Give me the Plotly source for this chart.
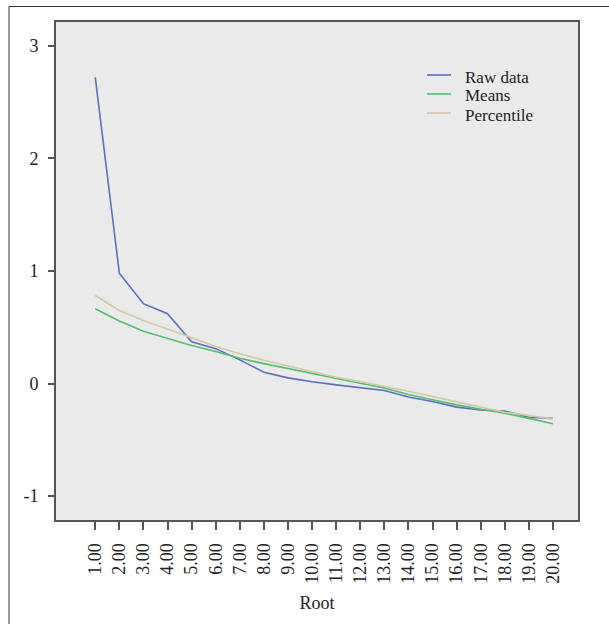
import plotly.graph_objects as go

# ---- data ----
roots = ["1.00", "2.00", "3.00", "4.00", "5.00", "6.00", "7.00", "8.00", "9.00", "10.00",
         "11.00", "12.00", "13.00", "14.00", "15.00", "16.00", "17.00", "18.00", "19.00", "20.00"]
raw_data = [2.72, 0.98, 0.71, 0.62, 0.37, 0.31, 0.21, 0.10, 0.05, 0.015,
            -0.012, -0.04, -0.062, -0.12, -0.16, -0.21, -0.235, -0.245, -0.30, -0.31]
means = [0.665, 0.555, 0.465, 0.40, 0.338, 0.285, 0.225, 0.177, 0.132, 0.086,
         0.042, 0.002, -0.04, -0.098, -0.145, -0.19, -0.228, -0.265, -0.31, -0.358]
percentile = [0.782, 0.649, 0.56, 0.486, 0.406, 0.329, 0.264, 0.207, 0.155, 0.104,
              0.056, 0.018, -0.024, -0.068, -0.116, -0.166, -0.21, -0.255, -0.284, -0.314]
y_ticks = [-1, 0, 1, 2, 3]

series = [
    ("Raw data", raw_data, "#5a6fc2"),
    ("Means", means, "#4cc46c"),
    ("Percentile", percentile, "#d3c9a2"),
]

FONT = "Liberation Serif"
W, H = 609, 624
ML, MR, MT, MB = 56, 31, 22, 104
PW, PH = W - ML - MR, H - MT - MB


def px(xp):
    return (xp - ML) / PW


def py(yp):
    return (H - MB - yp) / PH


fig = go.Figure()
for name, vals, col in series:
    fig.add_trace(go.Scatter(x=roots, y=vals, mode="lines", name=name,
                             line=dict(color=col, width=1.6), showlegend=False))

# custom compact legend (swatch + label)
leg_y_line = [75.0, 94.0, 113.0]
for (name, vals, col), yl in zip(series, leg_y_line):
    fig.add_shape(type="line", xref="paper", yref="paper",
                  x0=px(427), x1=px(451), y0=py(yl), y1=py(yl),
                  line=dict(color=col, width=1.6))
    fig.add_annotation(xref="paper", yref="paper", x=px(464), y=py(yl + 2),
                       text=name, showarrow=False, xanchor="left", yanchor="middle",
                       height=17, borderpad=0,
                       font=dict(family=FONT, size=17, color="#222222"))

# outer frame lines
frame = dict(color="#333333", width=1)
fig.add_shape(type="line", xref="paper", yref="paper", x0=px(9), x1=px(9),
              y0=py(6.5), y1=py(H + 5), line=frame)
fig.add_shape(type="line", xref="paper", yref="paper", x0=px(9), x1=px(W + 5),
              y0=py(6.5), y1=py(6.5), line=frame)

fig.update_layout(
    width=W, height=H,
    margin=dict(l=ML, r=MR, t=MT, b=MB, pad=0),
    paper_bgcolor="white",
    plot_bgcolor="#eaeaea",
    font=dict(family=FONT, size=18, color="#222222"),
)
fig.update_xaxes(
    type="category", range=[-1.63, 20.04],
    showline=True, mirror=True, linecolor="#555555", linewidth=2,
    ticks="outside", ticklen=8, tickcolor="#555555", tickwidth=1.5,
    tickangle=-90, showgrid=False, zeroline=False,
    tickfont=dict(family=FONT, size=18, color="#222222"),
    ticklabelstandoff=6,
    title=dict(text="Root", font=dict(family=FONT, size=18, color="#222222"), standoff=14),
)
fig.update_yaxes(
    range=[-1.213, 3.213], tickvals=y_ticks, ticktext=[str(v) for v in y_ticks],
    showline=True, mirror=True, linecolor="#555555", linewidth=2,
    ticks="outside", ticklen=6, tickcolor="#555555", tickwidth=1.5,
    showgrid=False, zeroline=False,
    tickfont=dict(family=FONT, size=18, color="#222222"),
    ticklabelstandoff=6,
)

fig.write_html("out.html", config={"displayModeBar": False},
               post_script="document.body.style.margin='0px';")
